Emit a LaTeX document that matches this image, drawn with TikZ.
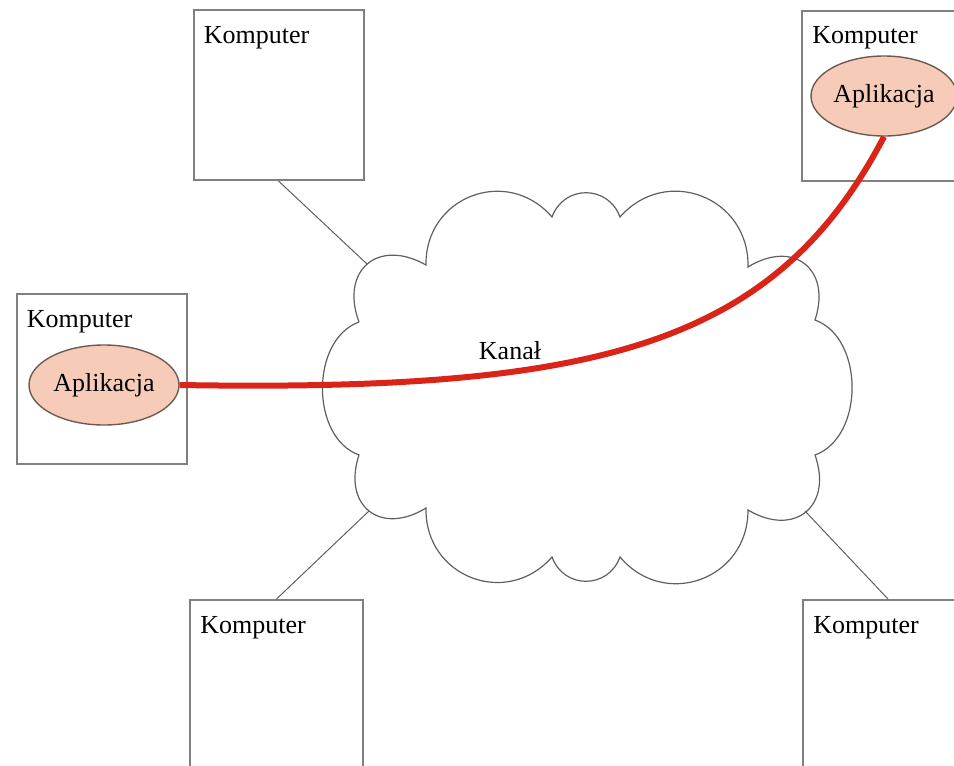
\documentclass[tikz,border=0pt]{standalone}
\usepackage{fontspec}
\setmainfont{Liberation Serif}
\usetikzlibrary{shapes.geometric,positioning}
\definecolor{boxgray}{RGB}{128,128,128}
\definecolor{linegray}{RGB}{95,95,95}
\definecolor{kanalred}{RGB}{218,36,24}
\definecolor{aplfill}{RGB}{246,203,184}
\definecolor{aplline}{RGB}{110,90,80}
\begin{document}
\begin{tikzpicture}[x=0.5pt,y=-0.5pt,
  komp/.style={draw=boxgray,line width=1pt,minimum width=85pt,minimum height=85pt,inner sep=0},
  kname/.style={inner sep=0,font=\fontsize{13}{15}\selectfont},
  apl/.style={ellipse,draw=aplline,line width=0.7pt,fill=aplfill,minimum width=75pt,minimum height=40pt,inner sep=0,font=\fontsize{13}{15}\selectfont},
  bump/.style={bend left=70,looseness=1.3},
  corner/.style={bend left=70,looseness=1.6},
  side/.style={bend left=70,looseness=1}]
\path[use as bounding box,clip] (0,0) rectangle (954,766);
% komputery
\node[komp] (kompN) at (278.5,95) {};
\node[komp] (kompW) at (101.5,379) {};
\node[komp] (kompNE) at (887,95.5) {};
\node[komp,minimum width=86.5pt] (kompSW) at (276.5,685) {};
\node[komp] (kompSE) at (888,685) {};
\foreach \k in {kompN,kompW,kompNE,kompSW,kompSE}
  \node[kname,below right=8.5pt and 5.5pt of \k.north west] (\k-txt) {Komputer};
% aplikacje
\node[apl] (aplW) at (104,385) {Aplikacja};
\node[apl,minimum width=73pt] (aplNE) at (884,96) {Aplikacja};
% chmura
\coordinate (p1) at (426,265);
\coordinate (p2) at (552,217);
\coordinate (p3) at (620,217);
\coordinate (p4) at (748,267);
\coordinate (p5) at (815,320);
\coordinate (p6) at (815,455);
\coordinate (p8) at (748,510);
\coordinate (p9) at (620,557);
\coordinate (p10) at (552,557);
\coordinate (p11) at (426,508);
\coordinate (p13) at (359,455);
\coordinate (p14) at (359,322);
\path[draw=linegray,line width=0.6pt] (p14) to[corner] (p1) to[bump] (p2) to[bump] (p3)
  to[bump] (p4) to[corner] (p5) to[side] (p6) to[corner] (p8) to[bump] (p9)
  to[bump] (p10) to[bump] (p11) to[corner] (p13) to[side] (p14);
\coordinate (cNW) at (367,264);
\coordinate (cSW) at (369,511);
\coordinate (cSE) at (805,511);
\path[draw=linegray,line width=0.5pt] (kompN.south) -- (cNW);
\path[draw=linegray,line width=0.5pt] (kompSW.north) -- (cSW);
\path[draw=linegray,line width=0.5pt] (kompSE.north) -- (cSE);
% kanal
\path[draw=kanalred,line width=3pt] (aplW.east) .. controls (600,392) and (775,345) .. (aplNE.south);
\node[kname] (kanal) at (510,351) {Kanał};
\end{tikzpicture}
\end{document}
